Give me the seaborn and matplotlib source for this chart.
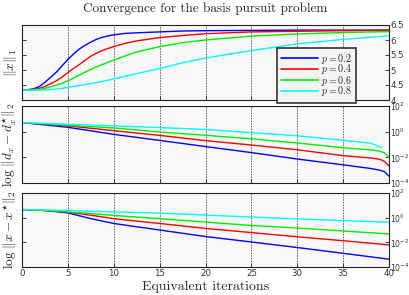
import io
import numpy as np
import pandas as pd
import matplotlib
matplotlib.use("Agg")
import matplotlib.pyplot as plt
import matplotlib.mathtext as mathtext
from matplotlib.font_manager import FontProperties
import seaborn as sns

sns.set_style("white")
plt.rcParams["font.family"] = ["DejaVu Sans"]
plt.rcParams["mathtext.fontset"] = "dejavusans"
plt.rcParams["axes.unicode_minus"] = False

# ---------------- data ----------------
p_labels = ["$p = 0.2$", "$p = 0.4$", "$p = 0.6$", "$p = 0.8$"]
colors = ["#0000ff", "#ff0000", "#00ee00", "#00ffff"]

x_top = [0, 1.25, 1.9, 2.5, 3.1, 3.75, 4.4, 5, 5.6, 6.25, 6.9, 7.5, 8.1, 8.75, 9.4, 10,
         11.25, 12.5, 15, 17.5, 20, 25, 30, 35, 40]
top_blue = [4.32, 4.37, 4.45, 4.59, 4.75, 4.93, 5.15, 5.35, 5.53, 5.70, 5.83, 5.93, 6.02, 6.09, 6.14, 6.17,
            6.22, 6.24, 6.27, 6.30, 6.31, 6.32, 6.33, 6.33, 6.33]
top_red = [4.32, 4.35, 4.39, 4.45, 4.54, 4.64, 4.77, 4.91, 5.05, 5.18, 5.33, 5.46, 5.56, 5.65, 5.72, 5.78,
           5.89, 5.97, 6.08, 6.15, 6.21, 6.27, 6.29, 6.31, 6.32]
top_green = [4.32, 4.34, 4.36, 4.39, 4.44, 4.50, 4.56, 4.64, 4.73, 4.83, 4.93, 5.02, 5.10, 5.18, 5.26, 5.33,
             5.47, 5.60, 5.78, 5.91, 6.00, 6.13, 6.20, 6.25, 6.28]
top_cyan = [4.32, 4.33, 4.33, 4.34, 4.35, 4.37, 4.39, 4.42, 4.45, 4.48, 4.51, 4.55, 4.58, 4.62, 4.66, 4.70,
            4.79, 4.88, 5.05, 5.24, 5.40, 5.65, 5.87, 6.02, 6.14]

x_mid = [0, 5, 10, 15, 20, 25, 30, 35, 38, 39, 39.5, 40]
x_mid_cyan = [0, 5, 10, 15, 20, 25, 30, 35, 38, 39.2]
mid_blue = [5.13, 2.19, 0.617, 0.209, 0.0692, 0.0234, 0.0074, 0.0026, 0.00135, 0.001, 0.00076, 0.00034]
mid_red = [5.13, 2.82, 1.20, 0.513, 0.2, 0.0912, 0.0389, 0.0135, 0.0089, 0.0071, 0.0048, 0.0021]
mid_green = [5.13, 3.16, 1.95, 0.933, 0.525, 0.275, 0.132, 0.0562, 0.038, 0.0302, 0.0224, 0.01]
mid_cyan = [5.13, 3.80, 2.82, 2.09, 1.48, 0.832, 0.479, 0.214, 0.126, 0.0562]

x_bot = [0, 2.5, 5, 7.5, 10, 12.5, 15, 20, 25, 30, 35, 40]
bot_blue = [4.57, 3.80, 2.45, 0.832, 0.339, 0.182, 0.1, 0.0295, 0.0107, 0.0038, 0.00129, 0.00043]
bot_red = [4.57, 3.80, 2.82, 1.58, 0.832, 0.525, 0.339, 0.135, 0.0617, 0.0282, 0.0135, 0.0062]
bot_green = [4.57, 3.98, 2.95, 2.14, 1.51, 1.12, 0.832, 0.437, 0.234, 0.145, 0.0832, 0.0479]
bot_cyan = [4.57, 4.27, 3.80, 3.31, 2.95, 2.63, 2.34, 1.62, 1.12, 0.794, 0.575, 0.427]

x_ticks = [0, 5, 10, 15, 20, 25, 30, 35, 40]
top_yticks = [4, 4.5, 5, 5.5, 6, 6.5]
top_yticklabels = ["4", "4.5", "5", "5.5", "6", "6.5"]
log_yticks = [1e-4, 1e-2, 1e0, 1e2]
log_yticklabels = ["$10^{-4}$", "$10^{-2}$", "$10^{0}$", "$10^{2}$"]


def long_df(series):
    frames = []
    for lab, xs, ys in series:
        frames.append(pd.DataFrame({"iter": xs, "val": ys, "p": lab}))
    return pd.concat(frames, ignore_index=True)


df_top = long_df([(p_labels[0], x_top, top_blue), (p_labels[1], x_top, top_red),
                  (p_labels[2], x_top, top_green), (p_labels[3], x_top, top_cyan)])
df_mid = long_df([(p_labels[0], x_mid, mid_blue), (p_labels[1], x_mid, mid_red),
                  (p_labels[2], x_mid, mid_green), (p_labels[3], x_mid_cyan, mid_cyan)])
df_bot = long_df([(p_labels[0], x_bot, bot_blue), (p_labels[1], x_bot, bot_red),
                  (p_labels[2], x_bot, bot_green), (p_labels[3], x_bot, bot_cyan)])

palette = dict(zip(p_labels, colors))


def ok_math(s):
    try:
        buf = io.BytesIO()
        mathtext.math_to_image(s, buf, format="png", dpi=50)
        return True
    except Exception:
        return False


ul_x = r"\underline{x}"
if not ok_math(r"$\|" + ul_x + r"\|_1$"):
    ul_x = "x"
ul_d = r"\underline{d}"
if not ok_math("$" + ul_d + "$"):
    ul_d = "d"

ylab_top = r"$\|" + ul_x + r"\|_1$"
ylab_mid = r"$\log\,\|" + ul_d + "_{" + ul_x + "} - " + ul_d + "^{\\star}_{" + ul_x + r"}\|_2$"
ylab_bot = r"$\log\,\|" + ul_x + " - " + ul_x + r"^{\star}\|_2$"

# ---------------- figure ----------------
fig = plt.figure(figsize=(4.09, 2.95), dpi=100)
L, W = 22 / 409, 367 / 409
ax1 = fig.add_axes([L, 1 - 100 / 295, W, 75 / 295])
ax2 = fig.add_axes([L, 1 - 183 / 295, W, 77 / 295])
ax3 = fig.add_axes([L, 1 - 267 / 295, W, 74 / 295])

sns.lineplot(data=df_top, x="iter", y="val", hue="p", palette=palette, ax=ax1, linewidth=1.0)
sns.lineplot(data=df_mid, x="iter", y="val", hue="p", palette=palette, ax=ax2, linewidth=1.0, legend=False)
sns.lineplot(data=df_bot, x="iter", y="val", hue="p", palette=palette, ax=ax3, linewidth=1.0, legend=False)

for ax in (ax1, ax2, ax3):
    ax.set_facecolor("#f8f8f8")
    ax.set_xlim(0, 40)
    ax.set_xticks(x_ticks)
    for xv in x_ticks[1:-1]:
        ax.axvline(xv, color="#555555", linewidth=0.6, linestyle=(0, (2.0, 1.2)), zorder=0.5)
    for sp in ax.spines.values():
        sp.set_color("#222222")
        sp.set_linewidth(0.8)
    ax.tick_params(axis="both", direction="in", length=3, width=0.6, color="#222222",
                   labelsize=6.2, labelcolor="#333333", pad=1.2)
    ax.tick_params(axis="y", left=True, right=True, labelleft=False, labelright=True)
    ax.tick_params(axis="x", top=False, bottom=True)
    ax.set_xlabel("")

ax1.set_ylim(4, 6.5)
ax1.set_yticks(top_yticks)
ax1.set_yticklabels(top_yticklabels)
for ax in (ax2, ax3):
    ax.set_yscale("log")
    ax.set_ylim(1e-4, 1e2)
    ax.set_yticks(log_yticks)
    ax.set_yticklabels(log_yticklabels)
    ax.minorticks_off()
    ax.tick_params(axis="y", labelsize=5.6, pad=0.8)

ax1.tick_params(axis="x", labelbottom=False)
ax2.tick_params(axis="x", labelbottom=False)

ax1.set_ylabel(ylab_top, fontproperties=FontProperties(family="cmr10", size=10, math_fontfamily="cm"), labelpad=2)
ax2.set_ylabel(ylab_mid, fontproperties=FontProperties(family="cmr10", size=9.5, math_fontfamily="cm"), labelpad=2)
ax3.set_ylabel(ylab_bot, fontproperties=FontProperties(family="cmr10", size=9.5, math_fontfamily="cm"), labelpad=2)
ax3.set_xlabel("Equivalent iterations", fontproperties=FontProperties(family="cmr10", size=10), labelpad=2)

fig.text(L + W / 2, 1 - 9 / 295, "Convergence for the basis pursuit problem",
         ha="center", va="center", fontproperties=FontProperties(family="cmr10", size=9.5))

leg = ax1.legend(loc="upper left", bbox_to_anchor=(0.695, 0.70), frameon=True, fancybox=False,
                 prop=FontProperties(family="cmr10", size=7.2, math_fontfamily="cm"),
                 handlelength=3.7, handletextpad=0.3, labelspacing=-0.3, borderpad=0.4,
                 borderaxespad=0.0)
leg.get_frame().set_edgecolor("#333333")
leg.get_frame().set_linewidth(1.2)
leg.get_frame().set_facecolor("#f4f4f4")
leg.get_frame().set_alpha(1.0)
for ln in leg.get_lines():
    ln.set_linewidth(1.2)

fig.savefig("out.png", dpi=100)
